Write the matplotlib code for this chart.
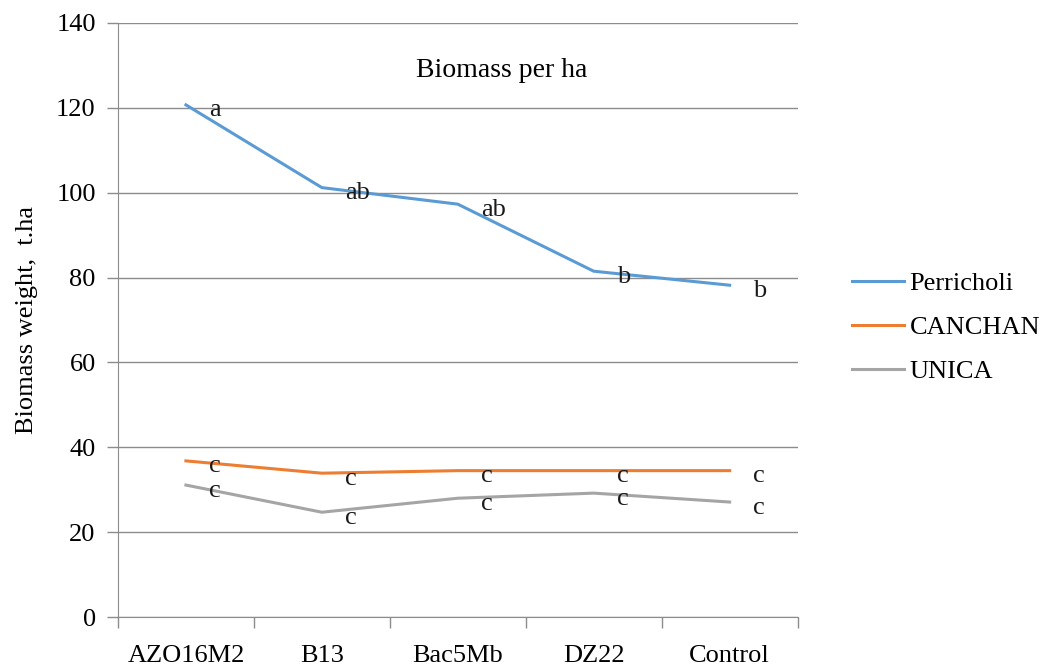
import matplotlib.pyplot as plt

plt.rcParams['font.family'] = ['Liberation Serif', 'DejaVu Serif']

categories = ["AZO16M2", "B13", "Bac5Mb", "DZ22", "Control"]
perricholi = [120.7, 101.2, 97.3, 81.5, 78.2]
canchan = [36.8, 33.9, 34.5, 34.5, 34.5]
unica = [31.1, 24.7, 28.0, 29.2, 27.1]
perricholi_letters = ["a", "ab", "ab", "b", "b"]
canchan_letters = ["c", "c", "c", "c", "c"]
unica_letters = ["c", "c", "c", "c", "c"]

fig = plt.figure(figsize=(10.44, 6.68), dpi=100)
ax = fig.add_axes([0.113, 0.0763, 0.651, 0.8893])

x = list(range(len(categories)))
ax.plot(x, perricholi, color="#5B9BD5", lw=2.2, label="Perricholi")
ax.plot(x, canchan, color="#ED7D31", lw=2.2, label="CANCHAN")
ax.plot(x, unica, color="#A5A5A5", lw=2.2, label="UNICA")

# significance letters, a bit right of each point
for vals, letters in [(perricholi, perricholi_letters), (canchan, canchan_letters), (unica, unica_letters)]:
    for i, (v, t) in enumerate(zip(vals, letters)):
        ax.text(i + 0.17, v - 1.3, t, fontsize=19, ha="left", va="center", color="#1a1a1a")

ax.set_xlim(-0.5, 4.5)
ax.set_ylim(0, 140)
ax.set_yticks(range(0, 141, 20))
ax.yaxis.grid(True, color="#8c8c8c", lw=1)
ax.set_axisbelow(True)
ax.set_xticks(x)
ax.set_xticklabels(categories)
ax.set_xticks([i - 0.5 for i in range(6)], minor=True)
ax.tick_params(axis="x", which="major", length=0, pad=20, labelsize=19)
ax.tick_params(axis="x", which="minor", length=8, color="#8c8c8c", width=1)
ax.tick_params(axis="y", length=8, color="#8c8c8c", width=1, labelsize=19, pad=8)
for s in ["top", "right"]:
    ax.spines[s].set_visible(False)
for s in ["left", "bottom"]:
    ax.spines[s].set_color("#8c8c8c")

ax.set_ylabel("Biomass weight,  t.ha", fontsize=19, labelpad=13)
ax.text(2.32, 128.8, "Biomass per ha", fontsize=20, ha="center", va="center")

fig.legend(loc="center left", bbox_to_anchor=(0.793, 0.51), frameon=False, fontsize=19,
           handlelength=2.0, handletextpad=0.2, labelspacing=0.78)

fig.savefig("out.png", dpi=100)
